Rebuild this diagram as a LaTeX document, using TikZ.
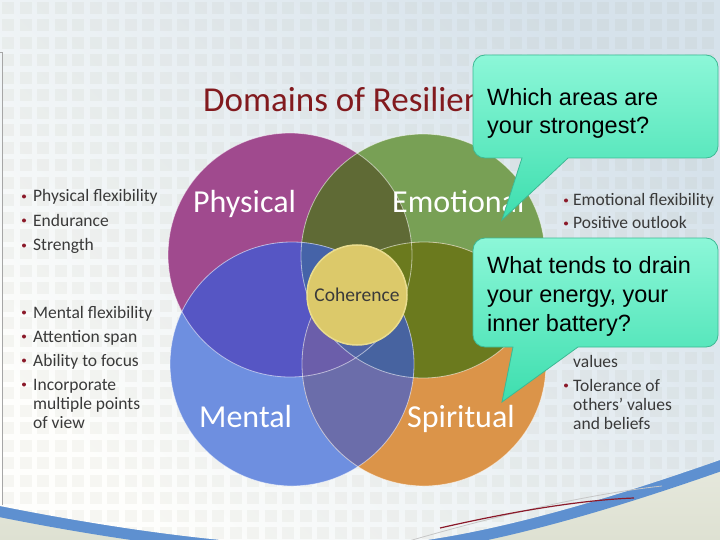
\documentclass[tikz,border=0pt]{standalone}
\usepackage{fontspec}
\setmainfont{Carlito}
\newfontfamily\arialf{Liberation Sans}
\definecolor{cP}{HTML}{A04A8E}
\definecolor{cG}{HTML}{78A055}
\definecolor{cB}{HTML}{6E8FE0}
\definecolor{cO}{HTML}{DB9449}
\definecolor{cPG}{HTML}{5F6A35}
\definecolor{cPB}{HTML}{5656C4}
\definecolor{cPO}{HTML}{6B6A70}
\definecolor{cGB}{HTML}{4A6A9A}
\definecolor{cGO}{HTML}{6B7A1E}
\definecolor{cBO}{HTML}{6B6DAA}
\definecolor{cPGB}{HTML}{4563A8}
\definecolor{cPGO}{HTML}{6B7A1E}
\definecolor{cPBO}{HTML}{6B5EAA}
\definecolor{cGBO}{HTML}{4763A0}
\definecolor{cPGBO}{HTML}{4F64A4}
\definecolor{cohfill}{HTML}{DCC96A}
\definecolor{cohedge}{HTML}{E9DC8E}
\definecolor{titlered}{HTML}{821A1E}
\definecolor{listtxt}{HTML}{3A3A3A}
\definecolor{bulred}{HTML}{8B1A2A}
\definecolor{calltop}{HTML}{8CF7D8}
\definecolor{callbot}{HTML}{3DDEAE}
\definecolor{calledge}{HTML}{3DB994}
\definecolor{bandblue}{HTML}{5E90D0}
\definecolor{pagewarm}{HTML}{FEFEFC}
\definecolor{pageblue}{HTML}{D6E2EB}
\definecolor{sqcol}{HTML}{A8A890}
\definecolor{basegrey}{HTML}{DEE1D2}
\def\cirP{(290,255) circle[radius=122]}
\def\cirG{(423,256) circle[radius=122]}
\def\cirB{(292,364) circle[radius=122]}
\def\cirO{(424,364) circle[radius=122]}
\def\pagecurve{(720,460) .. controls (620,495) and (480,540) .. (370,546) .. controls (260,550) and (120,530) .. (0,506)}
\begin{document}
\begin{tikzpicture}[x=1pt,y=-1pt,
  lst/.style={anchor=base west,inner sep=0pt,font=\fontsize{17.5}{20}\selectfont,text=listtxt},
  big/.style={anchor=base west,inner sep=0pt,font=\fontsize{32}{36}\selectfont,text=white},
  calltxt/.style={anchor=base west,inner sep=0pt,font=\arialf\fontsize{23.5}{28}\selectfont,text=black},
  bul/.style={fill=bulred},
  callout/.style={top color=calltop,bottom color=callbot,draw=calledge,line width=0.8pt},
  rim/.style={draw=white,draw opacity=0.55,line width=0.8pt}]
\useasboundingbox (0,0) rectangle (720,540);
% base below the page
\shade[top color=basegrey!50!white,bottom color=basegrey] (0,380) rectangle (720,540);
% blue band
\draw[bandblue,line width=22pt] \pagecurve;
% page
\begin{scope}
\clip (0,0) -- (720,0) -- \pagecurve -- cycle;
\shade[top color=pageblue,bottom color=pagewarm,shading angle=-45] (0,0) rectangle (720,560);
\foreach \i in {0,...,41}{
  \foreach \j in {0,...,32}{
    \fill[sqcol,opacity=0.09] ({\i*17.5+2},{\j*17.5+2}) rectangle ++(12,12);
  }
}
\end{scope}
% left frame line
\draw[gray!70,line width=0.8pt] (0,52) -- (2,52) -- (2,505);
% bottom decorative lines
\draw[gray!45,line width=0.8pt] (395,545) .. controls (480,520) and (580,495) .. (662,486);
\draw[bulred,line width=1.2pt] (440,528) .. controls (510,512) and (580,500) .. (634,498);
% Venn circles
\fill[cP] \cirP; \fill[cG] \cirG; \fill[cB] \cirB; \fill[cO] \cirO;
\begin{scope}\clip \cirP; \fill[cPG] \cirG; \fill[cPB] \cirB; \fill[cPO] \cirO; \end{scope}
\begin{scope}\clip \cirG; \fill[cGB] \cirB; \fill[cGO] \cirO; \end{scope}
\begin{scope}\clip \cirB; \fill[cBO] \cirO; \end{scope}
\begin{scope}\clip \cirP; \clip \cirG; \fill[cPGB] \cirB; \fill[cPGO] \cirO; \end{scope}
\begin{scope}\clip \cirP; \clip \cirB; \fill[cPBO] \cirO; \end{scope}
\begin{scope}\clip \cirG; \clip \cirB; \fill[cGBO] \cirO; \end{scope}
\begin{scope}\clip \cirP; \clip \cirG; \clip \cirB; \fill[cPGBO] \cirO; \end{scope}
\path[rim] \cirP; \path[rim] \cirG; \path[rim] \cirB; \path[rim] \cirO;
\node[circle,minimum size=100pt,inner sep=0pt,fill=cohfill,draw=cohedge,line width=1.5pt,
  font=\fontsize{19.5}{22}\selectfont,text=listtxt] (coh) at (357,295) {Coherence};
% domain labels
\node[big] (phys) at (193,213) {Physical};
\node[big] (emo) at (392,213) {Emotional};
\node[big] (ment) at (199,427) {Mental};
\node[big] (spir) at (407,427) {Spiritual};
% title
\node[anchor=base west,inner sep=0pt,font=\fontsize{35}{40}\selectfont,text=titlered] (title) at (203,112) {Domains of Resilience};
% left lists
\foreach \y in {202,226,251,318,342,366,390}{\fill[bul] (24,\y-5.5) circle[radius=2];}
\node[lst] (l1) at (33,202) {Physical flexibility};
\node[lst] (l2) at (33,226) {Endurance};
\node[lst] (l3) at (33,251) {Strength};
\node[lst] (m1) at (33,318) {Mental flexibility};
\node[lst] (m2) at (33,342) {Attention span};
\node[lst] (m3) at (33,366) {Ability to focus};
\node[lst] (m4) at (33,390) {Incorporate};
\node[lst] (m5) at (33,409) {multiple points};
\node[lst] (m6) at (33,428) {of view};
% right lists
\foreach \y in {206,229,391}{\fill[bul] (566,\y-5.5) circle[radius=2];}
\node[lst] (e1) at (573,206) {Emotional flexibility};
\node[lst] (e2) at (573,229) {Positive outlook};
\node[lst] (s0) at (573,367) {values};
\node[lst] (s1) at (573,391) {Tolerance of};
\node[lst] (s2) at (573,410) {others’ values};
\node[lst] (s3) at (573,429) {and beliefs};
% callout 1
\path[callout] (473,67) arc[start angle=180,end angle=270,radius=12] -- (706,55)
  arc[start angle=270,end angle=360,radius=12] -- (718,146)
  arc[start angle=0,end angle=90,radius=12] -- (568,158) -- (502,220) -- (522,158) -- (485,158)
  arc[start angle=90,end angle=180,radius=12] -- cycle;
\node[calltxt] (q1a) at (487,106) {Which areas are};
\node[calltxt] (q1b) at (487,134) {your strongest?};
% callout 2
\path[callout] (473,250) arc[start angle=180,end angle=270,radius=12] -- (706,238)
  arc[start angle=270,end angle=360,radius=12] -- (718,335)
  arc[start angle=0,end angle=90,radius=12] -- (578,347) -- (502,402) -- (513,347) -- (485,347)
  arc[start angle=90,end angle=180,radius=12] -- cycle;
\node[calltxt] (q2a) at (487,273) {What tends to drain};
\node[calltxt] (q2b) at (487,302) {your energy, your};
\node[calltxt] (q2c) at (487,331) {inner battery?};
\end{tikzpicture}
\end{document}
